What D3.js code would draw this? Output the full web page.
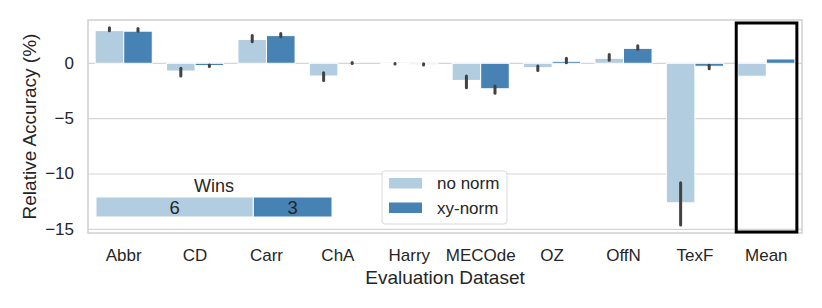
<!DOCTYPE html>
<html>
<head>
<meta charset="utf-8">
<script src="https://cdn.jsdelivr.net/npm/d3@7"></script>
<style>
  body { margin: 0; background: #fff; }
  svg text { font-family: "Liberation Sans", Arial, sans-serif; fill: #262626; }
</style>
</head>
<body>
<div id="chart"></div>
<script>
const categories = ["Abbr", "CD", "Carr", "ChA", "Harry", "MECOde", "OZ", "OffN", "TexF", "Mean"];
const series = ["no norm", "xy-norm"];
const noNorm = [2.95, -0.7, 2.15, -1.15, -0.05, -1.55, -0.4, 0.45, -12.6, -1.17];
const xyNorm = [2.9, -0.2, 2.5, 0.0, -0.1, -2.3, 0.18, 1.35, -0.27, 0.39];
// confidence intervals [lo, hi], null where no error bar
const noNormCI = [[2.95, 3.2], [-1.15, -0.45], [1.95, 2.5], [-1.55, -0.85], [-0.07, -0.03], [-2.2, -1.15], [-0.65, -0.25], [0.27, 0.8], [-14.6, -10.8], null];
const xyNormCI = [[2.9, 3.15], [-0.3, -0.15], [2.4, 2.7], [-0.03, 0.08], [-0.15, -0.05], [-2.7, -2.05], [0.05, 0.45], [1.26, 1.58], [-0.5, -0.18], null];
const yTicks = [0, -5, -10, -15];
const wins = [6, 3];

const colors = ["#b3cde0", "#4682b4"];
const width = 822, height = 308;
const margin = { top: 20, right: 20, bottom: 75, left: 88 };

const svg = d3.select("#chart").append("svg")
  .attr("width", width)
  .attr("height", height);

const x = d3.scaleBand()
  .domain(categories)
  .range([margin.left, width - margin.right])
  .paddingInner(0.2)
  .paddingOuter(0.1);

const xSub = d3.scaleBand()
  .domain(series)
  .range([0, x.bandwidth()]);

const y = d3.scaleLinear()
  .domain([-15.33, 3.91])
  .range([height - margin.bottom, margin.top]);

// grid
svg.append("g")
  .selectAll("line")
  .data(yTicks)
  .join("line")
  .attr("x1", margin.left)
  .attr("x2", width - margin.right)
  .attr("y1", d => y(d))
  .attr("y2", d => y(d))
  .attr("stroke", "#d5d5d5")
  .attr("stroke-width", 1.2);

// y axis labels
svg.append("g")
  .selectAll("text")
  .data(yTicks)
  .join("text")
  .attr("x", margin.left - 14)
  .attr("y", d => y(d))
  .attr("text-anchor", "end")
  .attr("dominant-baseline", "central")
  .style("font-size", "17px")
  .text(d => d < 0 ? "\u2212" + Math.abs(d) : d);

// x axis labels
svg.append("g")
  .selectAll("text")
  .data(categories)
  .join("text")
  .attr("x", d => x(d) + x.bandwidth() / 2)
  .attr("y", height - margin.bottom + 22)
  .attr("text-anchor", "middle")
  .attr("dominant-baseline", "central")
  .style("font-size", "17px")
  .text(d => d);

// bars
const rows = categories.map((c, i) => ({ c, vals: [noNorm[i], xyNorm[i]], ci: [noNormCI[i], xyNormCI[i]] }));

const groups = svg.append("g")
  .selectAll("g")
  .data(rows)
  .join("g")
  .attr("transform", d => `translate(${x(d.c)},0)`);

groups.selectAll("rect")
  .data(d => d.vals.map((v, j) => ({ v, s: series[j], j })))
  .join("rect")
  .attr("x", d => xSub(d.s))
  .attr("width", xSub.bandwidth())
  .attr("y", d => y(Math.max(0, d.v)))
  .attr("height", d => Math.abs(y(d.v) - y(0)))
  .attr("fill", d => colors[d.j])
  .attr("stroke", "#fff")
  .attr("stroke-width", 1);

groups.selectAll("line")
  .data(d => d.ci.map((ci, j) => ({ ci, s: series[j] })).filter(d => d.ci))
  .join("line")
  .attr("x1", d => xSub(d.s) + xSub.bandwidth() / 2)
  .attr("x2", d => xSub(d.s) + xSub.bandwidth() / 2)
  .attr("y1", d => y(d.ci[0]))
  .attr("y2", d => y(d.ci[1]))
  .attr("stroke", "#424242")
  .attr("stroke-width", 3)
  .attr("stroke-linecap", "round");

// frame
svg.append("rect")
  .attr("x", margin.left)
  .attr("y", margin.top)
  .attr("width", width - margin.left - margin.right)
  .attr("height", height - margin.top - margin.bottom)
  .attr("fill", "none")
  .attr("stroke", "#d0d0d0")
  .attr("stroke-width", 1.5);

// highlight box around Mean
svg.append("rect")
  .attr("x", x("Mean") - 1.5)
  .attr("y", margin.top + 3)
  .attr("width", x.bandwidth() + 3.5)
  .attr("height", height - margin.top - margin.bottom - 4)
  .attr("fill", "none")
  .attr("stroke", "#000")
  .attr("stroke-width", 3);

// wins inset
const wx = d3.scaleLinear().domain([0, d3.sum(wins)]).range([96, 332]);
const winsTop = 197, winsH = 20;
let acc = 0;
const winSegs = wins.map((w, i) => { const s = { start: acc, w, i }; acc += w; return s; });
const winsG = svg.append("g");
winsG.selectAll("rect")
  .data(winSegs)
  .join("rect")
  .attr("x", d => wx(d.start))
  .attr("y", winsTop)
  .attr("width", d => wx(d.start + d.w) - wx(d.start))
  .attr("height", winsH)
  .attr("fill", d => colors[d.i])
  .attr("stroke", "#fff")
  .attr("stroke-width", 1);
winsG.selectAll("text")
  .data(winSegs)
  .join("text")
  .attr("x", d => (wx(d.start) + wx(d.start + d.w)) / 2)
  .attr("y", winsTop + winsH / 2)
  .attr("text-anchor", "middle")
  .attr("dominant-baseline", "central")
  .style("font-size", "18.5px")
  .text(d => d.w);
winsG.append("text")
  .attr("x", (wx(0) + wx(d3.sum(wins))) / 2)
  .attr("y", 186)
  .attr("text-anchor", "middle")
  .attr("dominant-baseline", "central")
  .style("font-size", "18px")
  .text("Wins");

// legend
const lg = svg.append("g").attr("transform", "translate(382,171)");
lg.append("rect")
  .attr("width", 125)
  .attr("height", 53)
  .attr("rx", 3)
  .attr("fill", "#fff")
  .attr("fill-opacity", 0.8)
  .attr("stroke", "#d9d9d9");
series.forEach((s, i) => {
  lg.append("rect")
    .attr("x", 7)
    .attr("y", 7 + i * 24.5)
    .attr("width", 33)
    .attr("height", 10.5)
    .attr("fill", colors[i]);
  lg.append("text")
    .attr("x", 55)
    .attr("y", 12.5 + i * 24.5)
    .attr("dominant-baseline", "central")
    .style("font-size", "17px")
    .text(s);
});

// axis titles
svg.append("text")
  .attr("x", (margin.left + width - margin.right) / 2)
  .attr("y", 277)
  .attr("text-anchor", "middle")
  .attr("dominant-baseline", "central")
  .style("font-size", "19px")
  .text("Evaluation Dataset");

svg.append("text")
  .attr("transform", `translate(29,${(margin.top + height - margin.bottom) / 2}) rotate(-90)`)
  .attr("text-anchor", "middle")
  .attr("dominant-baseline", "central")
  .style("font-size", "19px")
  .text("Relative Accuracy (%)");
</script>
</body>
</html>
